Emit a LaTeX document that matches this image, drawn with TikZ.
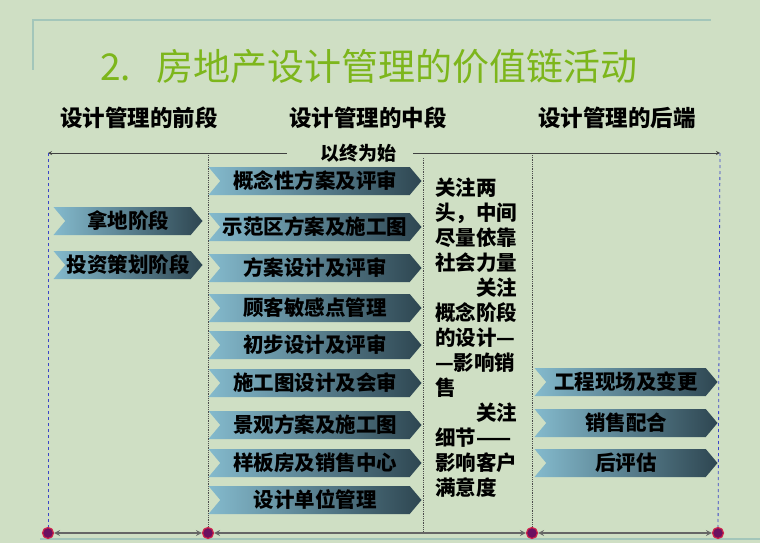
\documentclass[tikz,border=0pt]{standalone}
\usepackage{fontspec}
\setmainfont{Noto Sans CJK SC}
\usetikzlibrary{shapes.symbols, arrows, positioning}
\definecolor{slidebg}{HTML}{CFDFC4}
\definecolor{titlegreen}{HTML}{7DB61C}
\definecolor{bannerlight}{HTML}{84BACD}
\definecolor{bannerdark}{HTML}{2E4651}
\definecolor{framerule}{HTML}{A3C6BA}
\definecolor{dotpurple}{HTML}{6B1060}
\definecolor{dotred}{HTML}{D0234B}
\definecolor{guideblue}{HTML}{3A45C8}
\tikzstyle{banner} = [signal, signal to=east, signal from=west, signal pointer angle=100, minimum height=28pt, inner sep=0pt, left color=bannerlight, right color=bannerdark, text=black, font=\bfseries\fontsize{20.5}{20.5}\selectfont]
\tikzstyle{phase} = [font=\bfseries\fontsize{22.5}{22.5}\selectfont]
\tikzstyle{marker} = [circle, fill=dotpurple, draw=dotred, line width=1.2pt, inner sep=0pt, minimum size=11pt]
\tikzstyle{arrow} = [thick,->,>=stealth, black!75]
\tikzstyle{span} = [line width=1.6pt,<->,>=stealth, black!60]
\tikzstyle{guide} = [guideblue, dashed, thick]
\tikzstyle{divider} = [black!70, densely dotted, thick]

\begin{document}
\begin{tikzpicture}[x=1pt, y=-1pt]
    \useasboundingbox (0,0) rectangle (760,543);
    \fill[slidebg] (0,0) rectangle (760,543);
    % slide frame
    \draw[framerule, line width=1.5pt] (33,70) -- (33,20) -- (711,20);
    \draw[framerule, line width=1.2pt] (40,539) -- (760,539);

    \node (title) [text=titlegreen, font=\fontsize{37}{37}\selectfont] at (369,67) {2.\hspace{0.7em}房地产设计管理的价值链活动};
    \node (front) [phase] at (139,118) {设计管理的前段};
    \node (middle) [phase] at (368,118) {设计管理的中段};
    \node (back) [phase] at (617,118) {设计管理的后端};
    \node (motto) [font=\bfseries\fontsize{19}{19}\selectfont, inner xsep=17pt] at (358,153) {以终为始};

    % markers on the time line
    \node (m1) [marker] at (48,533) {};
    \node (m2) [marker] at (208,533) {};
    \node (m3) [marker] at (532,533) {};
    \node (m4) [marker] at (718,533) {};
    \coordinate (topL) at (48,153);
    \coordinate (topR) at (720,153);
    \coordinate (d1) at (208,155);
    \coordinate (d2) at (423,158);
    \coordinate (d2b) at (423,533);
    \coordinate (d3) at (532,155);

    % front stage
    \node (land) [banner, minimum width=149pt] at (128,221) {拿地阶段};
    \node (invest) [banner, minimum width=149pt] at (128,265) {投资策划阶段};

    % middle stage
    \node (concept) [banner, minimum width=213pt] at (315,181) {概念性方案及评审};
    \node (demo) [banner, minimum width=213pt] at (315,227) {示范区方案及施工图};
    \node (scheme) [banner, minimum width=213pt] at (315,268) {方案设计及评审};
    \node (client) [banner, minimum width=213pt] at (315,308) {顾客敏感点管理};
    \node (prelim) [banner, minimum width=213pt] at (315,345) {初步设计及评审};
    \node (cdraw) [banner, minimum width=213pt] at (315,383) {施工图设计及会审};
    \node (land2) [banner, minimum width=213pt] at (315,425) {景观方案及施工图};
    \node (show) [banner, minimum width=213pt] at (315,463) {样板房及销售中心};
    \node (firm) [banner, minimum width=213pt] at (315,500) {设计单位管理};

    % back stage
    \node (site) [banner, minimum width=183pt] at (626,382) {工程现场及变更};
    \node (sales) [banner, minimum width=183pt] at (626,423) {销售配合};
    \node (review) [banner, minimum width=183pt] at (626,463) {后评估};

    \node (note) [anchor=north west, align=left, inner sep=0pt, font=\bfseries\fontsize{20.5}{25}\selectfont] at (435,178) {关注两\\头，中间\\尽量依靠\\社会力量\\\hspace*{2em}关注\\概念阶段\\的设计—\\—影响销\\售\\\hspace*{2em}关注\\细节——\\影响客户\\满意度};

    \draw [arrow, shorten <=16pt] (motto.west) -- (topL);
    \draw [arrow] (motto.east) -- (topR);
    \draw [guide] (topL) -- (m1);
    \draw [guide] (topR) -- (m4);
    \draw [divider] (d1) -- (m2);
    \draw [divider] (d2) -- (d2b);
    \draw [divider] (d3) -- (m3);
    \draw [span] (m1) -- (m2);
    \draw [span] (m2) -- (m3);
    \draw [span] (m3) -- (m4);
\end{tikzpicture}
\end{document}
